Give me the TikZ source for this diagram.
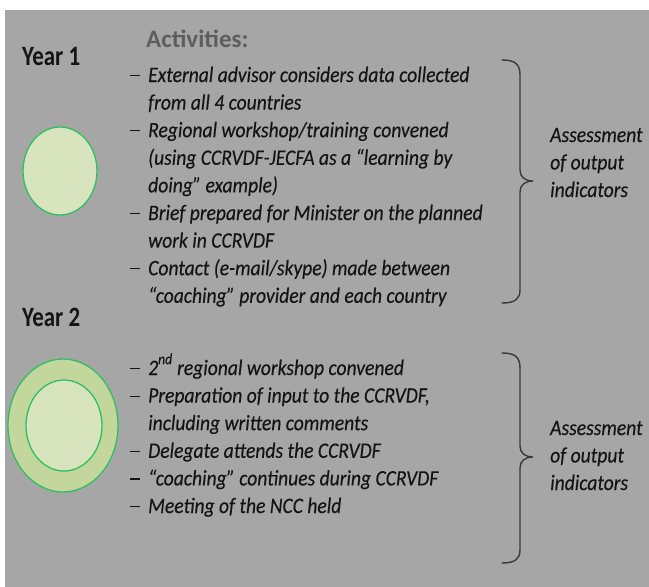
\documentclass[tikz,border=0pt]{standalone}
\usepackage{fontspec}
\setmainfont{Carlito}
\newfontfamily\narrowfont[FakeStretch=0.82]{Carlito}
\newfontfamily\itemfont[FakeStretch=0.89,FakeBold=0.3]{Carlito}
\usepackage{xcolor}
\usetikzlibrary{positioning,calc,shapes.geometric}
\definecolor{panelgray}{HTML}{A6A6A6}
\definecolor{headgray}{HTML}{5E5E5E}
\definecolor{inkdark}{HTML}{141414}
\definecolor{palegreen}{HTML}{D7E4BD}
\definecolor{midgreen}{HTML}{C3D69B}
\definecolor{rimgreen}{HTML}{2EBF62}
\definecolor{bracegray}{HTML}{3A3A3A}
\newcommand{\itemdash}{\llap{\rule[0.26em]{10pt}{1.3pt}\hspace{8pt}}}

\begin{document}
\begin{tikzpicture}[
    x=1pt, y=-1pt,
    year/.style={font=\narrowfont\bfseries\fontsize{28}{30}\selectfont, text=inkdark, anchor=base west, inner sep=0pt},
    head/.style={font=\bfseries\fontsize{25}{27}\selectfont, text=headgray, anchor=base west, inner sep=0pt},
    item/.style={font=\itemfont\itshape\fontsize{22}{27.6}\selectfont, text=inkdark, align=left, anchor=base west, inner sep=0pt},
    assess/.style={font=\itemfont\itshape\fontsize{22}{27.5}\selectfont, text=inkdark, align=left, anchor=base west, inner sep=0pt},
    ring/.style={ellipse, draw=rimgreen, line width=1.3pt, inner sep=0pt},
    brace/.style={draw=bracegray, line width=1.4pt, line cap=round}
]
    \useasboundingbox (0,0) rectangle (649,587);
    % Panel
    \fill[panelgray] (5,10) rectangle (649,587);

    % Year 1 (multi-line nodes sit on the baseline of their last line)
    \node[year] (year1) at (22,65) {Year 1};
    \node[head] (acts) at (146,47) {Activities:};
    \node[ring, fill=palegreen, minimum width=74, minimum height=88] (disc1) at (60,171) {};

    \node[item] (a1) at (148,109.6) {\itemdash External advisor considers data collected\\from all 4 countries};
    \node[item] (a2) at (148,192.4) {\itemdash Regional workshop/training convened\\(using CCRVDF-JECFA as a “learning by\\doing” example)};
    \node[item] (a3) at (148,247.6) {\itemdash Brief prepared for Minister on the planned\\work in CCRVDF};
    \node[item] (a4) at (148,302.8) {\itemdash Contact (e-mail/skype) made between\\“coaching” provider and each country};

    % Brace and outcome, Year 1
    \draw[brace] (502,60) .. controls (515,60) and (520,64) .. (520,75) -- (520,170)
        .. controls (520,177) and (525,181) .. (533,181)
        .. controls (525,181) and (520,185) .. (520,192) -- (520,290)
        .. controls (520,299) and (515,303) .. (502,303);
    \node[assess] (out1) at (550,197) {Assessment\\of output\\indicators};

    % Year 2
    \node[year] (year2) at (22,326) {Year 2};
    \node[ring, fill=midgreen, minimum width=110, minimum height=133] (disc2) at (63,425.5) {};
    \node[ring, fill=palegreen, minimum width=76, minimum height=91] (core2) at (64,425.5) {};

    \node[item] (b1) at (148,375) {\itemdash 2\raisebox{0.15em}{\textsuperscript{nd}} regional workshop convened};
    \node[item] (b2) at (148,430.2) {\itemdash Preparation of input to the CCRVDF,\\including written comments};
    \node[item] (b3) at (148,457.8) {\itemdash Delegate attends the CCRVDF};
    \node[item] (b4) at (148,485.4) {\itemdash “coaching” continues during CCRVDF};
    \node[item] (b5) at (148,513) {\itemdash Meeting of the NCC held};

    % Brace and outcome, Year 2
    \draw[brace] (502,353) .. controls (515,353) and (520,357) .. (520,368) -- (520,446)
        .. controls (520,453) and (525,457) .. (533,457)
        .. controls (525,457) and (520,461) .. (520,468) -- (520,550)
        .. controls (520,559) and (515,563) .. (502,563);
    \node[assess] (out2) at (550,490) {Assessment\\of output\\indicators};
\end{tikzpicture}
\end{document}
